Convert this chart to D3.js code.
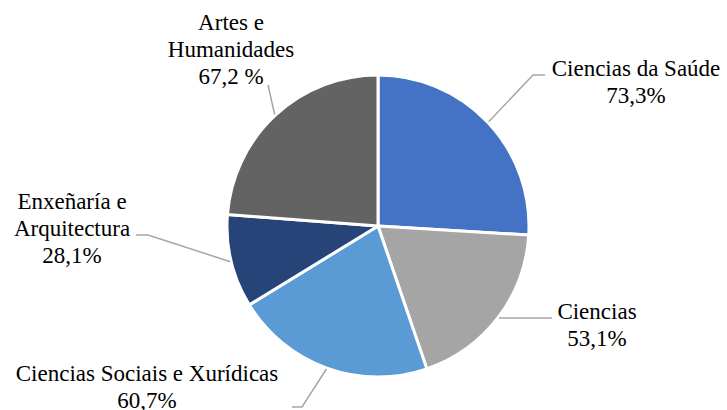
<!DOCTYPE html>
<html>
<head>
<meta charset="utf-8">
<title>Pie chart</title>
<script src="https://d3js.org/d3.v7.min.js"></script>
<style>
  body { margin: 0; background: #fff; }
  #wrap { position: relative; width: 727px; height: 410px; overflow: hidden; }
  #wrap svg { position: absolute; left: 0; top: 0; }
  .ptxt {
    position: absolute;
    font-family: 'Liberation Serif', 'Times New Roman', serif;
    font-size: 23px;
    line-height: 27px;
    color: #000;
    text-align: center;
    white-space: nowrap;
    width: 300px;
  }
</style>
</head>
<body>
<div id="wrap"><svg id="chart" width="727" height="410"></svg></div>
<script>
// data
var categories = ["Ciencias da Saúde", "Ciencias", "Ciencias Sociais e Xurídicas", "Enxeñaría e Arquitectura", "Artes e Humanidades"];
var values = [73.3, 53.1, 60.7, 28.1, 67.2];
var valueLabels = ["73,3%", "53,1%", "60,7%", "28,1%", "67,2 %"];
var nameLines = [["Ciencias da Saúde"], ["Ciencias"], ["Ciencias Sociais e Xurídicas"], ["Enxeñaría e", "Arquitectura"], ["Artes e", "Humanidades"]];
var colors = ["#4472C4", "#A5A5A5", "#5B9BD5", "#264478", "#636363"];

// text layout: centre x, first baseline y, leader elbow and end
var textPos = [
  { x: 636, y: 76, elbow: [533, 75], end: [545, 75] },
  { x: 597, y: 319, elbow: null, end: [552, 318] },
  { x: 147, y: 381, elbow: [302, 407], end: [292, 407] },
  { x: 72, y: 209, elbow: [148, 235], end: [136, 235] },
  { x: 231, y: 30, elbow: null, end: [268, 85] }
];

var svg = d3.select("#chart"),
  cx = 378, cy = 226, radius = 151;

var pie = d3.pie().sort(null).value(function(d) { return d; });
var arcs = pie(values);
var arc = d3.arc().innerRadius(0).outerRadius(radius);
var leaderArc = d3.arc().innerRadius(152).outerRadius(152);

var g = svg.append("g").attr("transform", "translate(" + cx + "," + cy + ")");

g.selectAll("path.slice")
  .data(arcs)
  .enter()
  .append("path")
    .attr("class", "slice")
    .attr("d", arc)
    .attr("fill", function(d, i) { return colors[i]; })
    .attr("stroke", "#fff")
    .attr("stroke-width", 3)
    .attr("stroke-linejoin", "round");

// leader lines
svg.selectAll("polyline.leader")
  .data(arcs)
  .enter()
  .append("polyline")
    .attr("class", "leader")
    .attr("points", function(d, i) {
      var c = leaderArc.centroid(d);
      var pts = [[c[0] + cx, c[1] + cy]];
      if (textPos[i].elbow) pts.push(textPos[i].elbow);
      pts.push(textPos[i].end);
      return pts.map(function(p) { return p.join(","); }).join(" ");
    })
    .attr("fill", "none")
    .attr("stroke", "#A6A6A6")
    .attr("stroke-width", 1.5);

// category names and percentages
var baseOff = 21;
d3.select("#wrap").selectAll("div.ptxt")
  .data(categories)
  .enter()
  .append("div")
    .attr("class", "ptxt")
    .style("left", function(d, i) { return (textPos[i].x - 150) + "px"; })
    .style("top", function(d, i) { return (textPos[i].y - baseOff) + "px"; })
    .html(function(d, i) {
      return nameLines[i].concat([valueLabels[i]]).join("<br>");
    });
</script>
</body>
</html>
